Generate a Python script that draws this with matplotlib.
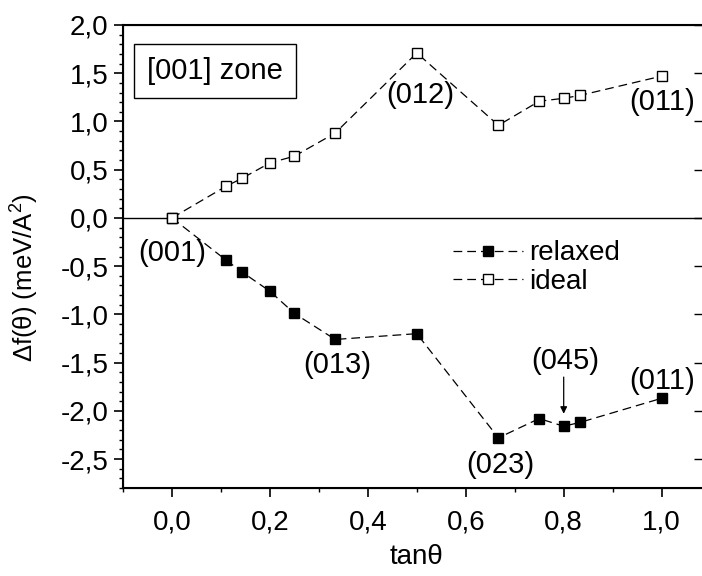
import matplotlib
matplotlib.use("Agg")
import matplotlib.pyplot as plt
from matplotlib.ticker import MultipleLocator, FuncFormatter

plt.rcParams['font.family'] = ['Liberation Sans', 'DejaVu Sans']
plt.rcParams['mathtext.fontset'] = 'custom'
plt.rcParams['mathtext.rm'] = 'Liberation Sans'

# tan(theta) positions of the planes
tan_theta = [0.0, 1/9, 1/7, 0.2, 0.25, 1/3, 0.5, 2/3, 0.75, 0.8, 5/6, 1.0]
relaxed = [0.0, -0.44, -0.56, -0.76, -0.99, -1.26, -1.20, -2.28, -2.08, -2.16, -2.12, -1.87]
ideal = [0.0, 0.33, 0.41, 0.57, 0.64, 0.88, 1.71, 0.96, 1.21, 1.24, 1.27, 1.47]

# plane labels and where they sit
labels = ['(001)', '(012)', '(011)', '(013)', '(023)', '(045)', '(011)']
label_x = [0.0, 0.507, 1.0, 0.337, 0.671, 0.804, 1.0]
label_y = [-0.36, 1.27, 1.20, -1.52, -2.56, -1.48, -1.69]

fig = plt.figure(figsize=(7.02, 5.76), dpi=100)
ax = fig.add_axes([123/702, 1 - 488/576, (710.6 - 123)/702, (488 - 25)/576])

ax.axhline(0, color='black', lw=1.0, zorder=1)

ax.plot(tan_theta, relaxed, ls=(0, (7, 4)), color='black', lw=0.9,
        marker='s', ms=7, mfc='black', mec='black', label='relaxed', zorder=3)
ax.plot(tan_theta, ideal, ls=(0, (7, 4)), color='black', lw=0.9,
        marker='s', ms=7, mfc='white', mec='black', mew=1.0, label='ideal', zorder=4)

for t, x, y in zip(labels, label_x, label_y):
    ax.text(x, y, t, fontsize=21, ha='center', va='center')

# arrow pointing at (045)
ax.annotate('', xy=(0.8, -2.03), xytext=(0.8, -1.65),
            arrowprops=dict(arrowstyle='-|>', color='black', lw=0.9,
                            mutation_scale=10, shrinkA=0, shrinkB=0))

ax.text(0.088, 1.52, '[001] zone', fontsize=21, ha='center', va='center',
        bbox=dict(boxstyle='square,pad=0.45', fc='white', ec='black', lw=1.0))

ax.set_xlim(-0.1, 1.1)
ax.set_ylim(-2.8, 2.0)
ax.xaxis.set_major_locator(MultipleLocator(0.2))
ax.xaxis.set_minor_locator(MultipleLocator(0.1))
ax.yaxis.set_major_locator(MultipleLocator(0.5))
ax.yaxis.set_minor_locator(MultipleLocator(0.1))
comma = FuncFormatter(lambda v, p: ('%.1f' % v).replace('-0.0', '0.0').replace('.', ','))
ax.xaxis.set_major_formatter(comma)
ax.yaxis.set_major_formatter(comma)
ax.tick_params(which='major', direction='out', length=6.5, width=1.2, labelsize=20)
ax.tick_params(which='minor', direction='out', length=3, width=1.0)
ax.tick_params(axis='x', which='major', pad=9)
ax.tick_params(axis='y', which='major', pad=4)
for s in ax.spines.values():
    s.set_linewidth(1.5)

ax2 = ax.twinx()
ax2.set_ylim(-2.8, 2.0)
ax2.yaxis.set_major_locator(MultipleLocator(0.5))
ax2.tick_params(axis='y', direction='in', length=12, width=1.0, labelright=False)
ax2.spines['right'].set_visible(False)

ax.set_xlabel('tan\u03b8', fontsize=20, labelpad=6)
ax.set_ylabel('\u0394f(\u03b8) (meV/A$^2$)', fontsize=18.5)
ax.yaxis.set_label_coords(-0.142, 0.454)

ax.legend(loc='upper left', bbox_to_anchor=(0.562, 0.535), frameon=False,
          fontsize=20, numpoints=1, handlelength=2.5, handletextpad=0.25,
          labelspacing=0.1, borderaxespad=0, borderpad=0)

fig.savefig('out.png', dpi=100)
